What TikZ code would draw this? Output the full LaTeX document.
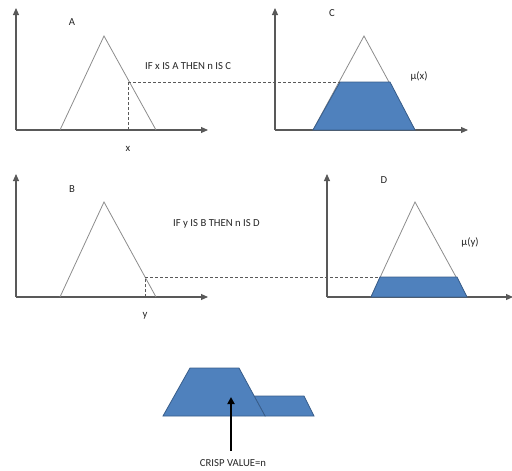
\documentclass[tikz,border=0pt]{standalone}
\usepackage{fontspec}
\setmainfont{Carlito}
\usetikzlibrary{arrows.meta}
\definecolor{fillblue}{HTML}{4F81BD}
\definecolor{edgeblue}{HTML}{385D8A}
\definecolor{axisgray}{HTML}{595959}
\definecolor{trigray}{HTML}{8C8C8C}
\begin{document}
\begin{tikzpicture}[x=1pt,y=-1pt,
  axis/.style={draw=axisgray,line width=1.1pt,-{Triangle[length=7pt,width=6pt]}},
  tri/.style={draw=trigray,line width=0.8pt,line join=miter},
  blueshape/.style={fill=fillblue,draw=edgeblue,line width=0.8pt},
  guide/.style={draw=axisgray,line width=0.8pt,dash pattern=on 3pt off 2pt},
  lbl/.style={font=\fontsize{10.7}{12}\selectfont,text=black!85,inner sep=0pt},
  crisp/.style={draw=black,line width=2.2pt,-{Triangle[length=7pt,width=7pt]}}]
\useasboundingbox (0,0) rectangle (512,471);
% ---------- panel A ----------
\coordinate (oA) at (16,130);
\coordinate (tA) at (16,8);
\coordinate (eA) at (208,130);
\draw[axis] (oA) -- (tA);
\draw[axis] (oA) -- (eA);
\draw[tri] (60,130) -- (104,36) -- (156,130);
\node[lbl] (A) at (72,22) {A};
\node[lbl] (xl) at (128,149) {x};
\coordinate (xb) at (128,130);
\coordinate (xm) at (128,82);
\draw[guide] (xb) -- (xm);
\node[lbl,anchor=west] (ruleA) at (145,66) {IF x IS A THEN n IS C};
% ---------- panel C ----------
\coordinate (oC) at (275,130);
\coordinate (tC) at (275,8);
\coordinate (eC) at (468,130);
\draw[axis] (oC) -- (tC);
\draw[axis] (oC) -- (eC);
\draw[tri] (313,130) -- (364,36) -- (415,130);
\coordinate (cL) at (340,82);
\coordinate (cR) at (390,82);
\draw[blueshape] (313,130) -- (cL) -- (cR) -- (415,130) -- cycle;
\draw[guide] (xm) -- (cL);
\node[lbl] (C) at (332,13) {C};
\node[lbl] (mux) at (419,76) {µ(x)};
% ---------- panel B ----------
\coordinate (oB) at (16,297);
\coordinate (tB) at (16,174);
\coordinate (eB) at (208,297);
\draw[axis] (oB) -- (tB);
\draw[axis] (oB) -- (eB);
\draw[tri] (60,297) -- (104,202) -- (156,297);
\node[lbl] (B) at (72,189) {B};
\node[lbl] (yl) at (145,316) {y};
\coordinate (yb) at (145,297);
\coordinate (ym) at (145,277);
\draw[guide] (yb) -- (ym);
\node[lbl,anchor=west] (ruleB) at (173,224) {IF y IS B THEN n IS D};
% ---------- panel D ----------
\coordinate (oD) at (327,297);
\coordinate (tD) at (327,174);
\coordinate (eD) at (513,297);
\draw[axis] (oD) -- (tD);
\draw[axis] (oD) -- (eD);
\draw[tri] (371,297) -- (415,202) -- (467,297);
\coordinate (dL) at (380,277);
\coordinate (dR) at (457,277);
\draw[blueshape] (371,297) -- (dL) -- (dR) -- (467,297) -- cycle;
\draw[guide] (ym) -- (dL);
\node[lbl] (D) at (384,180) {D};
\node[lbl] (muy) at (470,242) {µ(y)};
% ---------- result ----------
\draw[blueshape] (254,396) -- (304,396) -- (314,416) -- (265,416) -- cycle;
\draw[blueshape] (163,416) -- (190,368) -- (239,368) -- (265,416) -- cycle;
\node[lbl] (crispl) at (233,463) {CRISP VALUE=n};
\coordinate (cs) at (231,451);
\coordinate (ce) at (231,397);
\draw[crisp] (cs) -- (ce);
\end{tikzpicture}
\end{document}
